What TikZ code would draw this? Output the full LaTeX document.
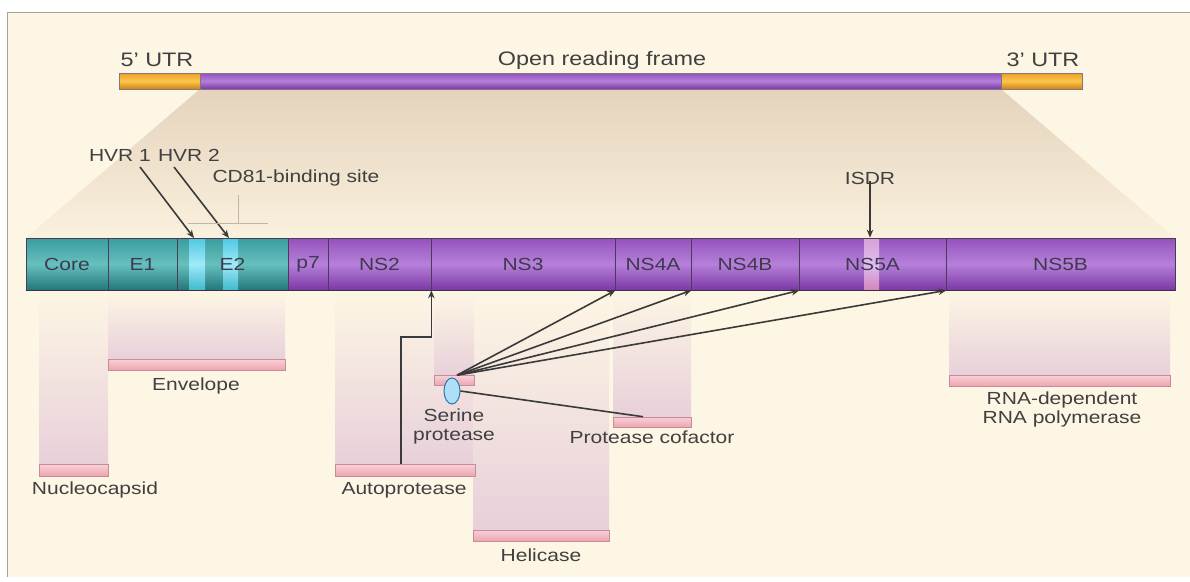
\documentclass[tikz,border=0pt]{standalone}
\usepackage{fontspec}
\setmainfont{Liberation Sans}[FakeStretch=1.2]
\usetikzlibrary{arrows.meta,shapes.geometric}

\definecolor{bg}{HTML}{FDF6E4}
\definecolor{frame}{HTML}{A8A298}
\definecolor{tan}{HTML}{E5D3BC}
\definecolor{colpink}{HTML}{E8D0DA}
\definecolor{pinktop}{HTML}{F9D0D6}
\definecolor{pinkbot}{HTML}{EDA5B2}
\definecolor{pinkline}{HTML}{C48E98}
\definecolor{tealtop}{HTML}{3A9C9E}
\definecolor{tealmid}{HTML}{66C0BE}
\definecolor{tealbot}{HTML}{23767A}
\definecolor{purtop}{HTML}{9452BC}
\definecolor{purmid}{HTML}{B680DA}
\definecolor{purbot}{HTML}{7A38A4}
\definecolor{hvrtop}{HTML}{4FC8E2}
\definecolor{hvrmid}{HTML}{A0EAF8}
\definecolor{isdrc}{HTML}{DCBDF0}
\definecolor{ortop}{HTML}{EE9E22}
\definecolor{ormid}{HTML}{F9C74E}
\definecolor{orbot}{HTML}{D4820E}
\definecolor{ink}{HTML}{404040}
\definecolor{arrink}{HTML}{3A3A3A}
\definecolor{barink}{HTML}{3E3A4C}
\definecolor{segline}{HTML}{4A3C55}
\definecolor{bracket}{HTML}{C9B2A2}
\definecolor{ellfill}{HTML}{AEDFF7}
\definecolor{elldraw}{HTML}{2A78B2}

\tikzset{
  lbl/.style={font=\fontsize{17.5}{18}\selectfont, text=ink, inner sep=1pt, align=center},
  toplbl/.style={lbl, font=\fontsize{19.5}{20}\selectfont},
  seg/.style={draw=segline, line width=0.7pt, minimum height=52pt, inner sep=0pt,
    font=\fontsize{17.5}{18}\selectfont, text=barink},
  tealfill/.style={top color=tealtop, bottom color=tealbot, middle color=tealmid},
  purfill/.style={top color=purtop, bottom color=purbot, middle color=purmid},
  orfill/.style={top color=ortop, bottom color=orbot, middle color=ormid},
  rnabar/.style={draw=segline!70, line width=0.5pt, minimum height=16pt, inner sep=0pt},
  pinkbar/.style={draw=pinkline, line width=0.6pt, top color=pinktop, bottom color=pinkbot,
    inner sep=0pt},
  column/.style={top color=bg, bottom color=colpink},
  arr/.style={draw=arrink, line width=1.6pt, -{Stealth[length=8pt,width=6.5pt]}},
  plain/.style={draw=arrink, line width=1.6pt},
}

\begin{document}
\begin{tikzpicture}[x=1pt,y=-1pt]
\useasboundingbox (0,0) rectangle (1190,581);

% page and frame
\fill[white] (0,0) rectangle (1190,581);
\fill[bg] (7,12) rectangle (1190,577);
\draw[frame, line width=0.8pt] (7,577) -- (7,12) -- (1190,12);

% projection from the open reading frame to the polyprotein
\shade[top color=tan, bottom color=bg!85!tan] (200,89) -- (1001,89) -- (1175,238) -- (26,238) -- cycle;

% genome
\node[rnabar, orfill, minimum width=81pt] (utr5) at (159.5,81) {};
\node[rnabar, purfill, minimum width=801pt] (orf) at (600.5,81) {};
\node[rnabar, orfill, minimum width=81pt] (utr3) at (1041.5,81) {};
\node[toplbl] (l5) at (157,60) {5’ UTR};
\node[toplbl] (lorf) at (602,60) {Open reading frame};
\node[toplbl] (l3) at (1043,60) {3’ UTR};

% shaded columns below the polyprotein
\shade[column] (39,291) rectangle (108,464);
\shade[column] (108,291) rectangle (285,359);
\shade[column] (335,291) rectangle (475,464);
\shade[column] (473,291) rectangle (609,530);
\shade[column] (434,291) rectangle (474,376);
\shade[column] (613,291) rectangle (691,417);
\shade[column] (949,291) rectangle (1170,375);

% polyprotein body
\shade[tealfill] (26,238) rectangle (288,290);
\shade[purfill] (288,238) rectangle (1175,290);
% hypervariable regions and ISDR
\shade[top color=hvrtop, bottom color=hvrtop!80!teal, middle color=hvrmid] (189,238) rectangle (205,290);
\shade[top color=hvrtop, bottom color=hvrtop!80!teal, middle color=hvrmid] (223,238) rectangle (238,290);
\shade[top color=isdrc!85!purple, bottom color=isdrc!70!purple, middle color=isdrc] (864,238) rectangle (879,290);

% protein segments
\node[seg, minimum width=82pt]  (core) at (67,264)    {Core};
\node[seg, minimum width=69pt]  (e1)   at (142.5,264) {E1};
\node[seg, minimum width=111pt] (e2)   at (232.5,264) {E2};
\node[seg, minimum width=40pt]  (p7)   at (308,264)   {p7};
\node[seg, minimum width=103pt] (ns2)  at (379.5,264) {NS2};
\node[seg, minimum width=184pt] (ns3)  at (523,264)   {NS3};
\node[seg, minimum width=76pt]  (ns4a) at (653,264)   {NS4A};
\node[seg, minimum width=108pt] (ns4b) at (745,264)   {NS4B};
\node[seg, minimum width=147pt] (ns5a) at (872.5,264) {NS5A};
\node[seg, minimum width=229pt] (ns5b) at (1060.5,264){NS5B};
\draw[segline!80!black, line width=1.2pt] (core.south west) -- (ns5b.south east);

% labels above the polyprotein
\node[lbl] (hvr1) at (120,155) {HVR 1};
\node[lbl] (hvr2) at (189,155) {HVR 2};
\node[lbl] (cd81) at (296,178) {CD81-binding site};
\node[lbl] (isdr) at (870,178) {ISDR};
\coordinate (hvr1s) at (140,167);
\coordinate (hvr2s) at (174,167);
\coordinate (hvr1t) at (194,238);
\coordinate (hvr2t) at (229,238);
\draw[arr] (hvr1s) -- (hvr1t);
\draw[arr] (hvr2s) -- (hvr2t);
\coordinate (cdtop) at (238,195);
\coordinate (cdfoot) at (238,223);
\draw[bracket, line width=0.8pt] (cdtop) -- (cdfoot);
\draw[bracket, line width=0.8pt] (188,223) -- (268,223);
\draw[arr] ([yshift=4pt]isdr.south) -- (isdr.south |- ns5a.north);

% functional domains
\node[pinkbar, minimum width=69pt,  minimum height=12pt] (ncbar)  at (73.5,470)   {};
\node[pinkbar, minimum width=177pt, minimum height=11pt] (envbar) at (196.5,364.5) {};
\node[pinkbar, minimum width=140pt, minimum height=12pt] (apbar)  at (405,470)    {};
\node[pinkbar, minimum width=40pt,  minimum height=10pt] (spbar)  at (454,380.5)  {};
\node[pinkbar, minimum width=136pt, minimum height=11pt] (helbar) at (541,535.5)  {};
\node[pinkbar, minimum width=78pt,  minimum height=10pt] (cofbar) at (652,422)    {};
\node[pinkbar, minimum width=221pt, minimum height=11pt] (polbar) at (1059.5,380.5) {};

\node[lbl] (nc)  at (95,490)  {Nucleocapsid};
\node[lbl] (env) at (196,386) {Envelope};
\node[lbl] (ap)  at (404,490) {Autoprotease};
\node[lbl, font=\fontsize{17.5}{19}\selectfont] (sp) at (454,426) {Serine\\protease};
\node[lbl] (cof) at (652,437) {Protease cofactor};
\node[lbl] (hel) at (541,555) {Helicase};
\node[lbl, font=\fontsize{17.5}{19}\selectfont] (pol) at (1062,409) {RNA-dependent\\RNA polymerase};

% NS2 autoprotease cleavage
\coordinate (apbend) at (401,337);
\draw[arr] ([xshift=-4pt]apbar.north) -- (apbend) -| (ns2.south east);

% NS3 serine protease cleavages
\node[ellipse, draw=elldraw, line width=1pt, fill=ellfill, minimum width=16pt,
      minimum height=26pt, inner sep=0pt] (spell) at (452,391) {};
\draw[plain] (spell.east) -- ([xshift=-9pt]cofbar.north);
\draw[arr] ([xshift=3pt]spbar.north) -- (ns3.south east);
\draw[arr] ([xshift=3pt]spbar.north) -- (ns4a.south east);
\draw[arr] ([xshift=3pt]spbar.north) -- (ns4b.south east);
\draw[arr] ([xshift=3pt]spbar.north) -- (ns5a.south east);
\end{tikzpicture}
\end{document}
